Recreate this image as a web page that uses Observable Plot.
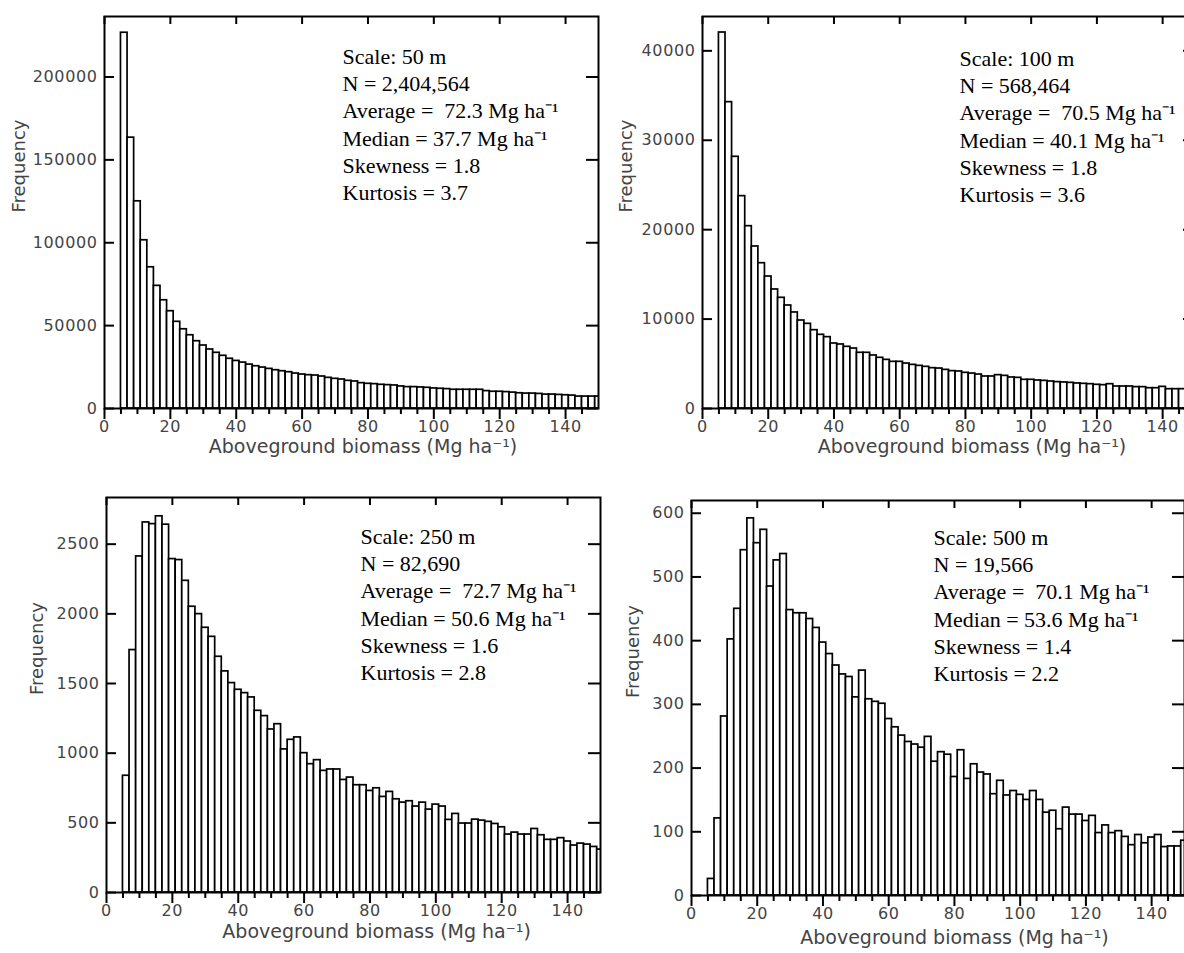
<!DOCTYPE html>
<html><head><meta charset="utf-8">
<script src="https://cdn.jsdelivr.net/npm/d3@7"></script>
<script src="https://cdn.jsdelivr.net/npm/@observablehq/plot@0.6"></script>
<style>
html,body{margin:0;padding:0;background:#fff;}
#chart{position:relative;width:1184px;height:953px;overflow:hidden;background:#fff;}
#chart svg{position:absolute;}
</style></head><body><div id="chart"></div>
<script>
// Histogram bins: 2 Mg/ha wide, first bin starts at 5
const binStart = 5, binWidth = 2;

const counts50 = [226700,163400,125000,101500,85200,74000,65300,58700,52300,47800,44200,40600,38000,35600,33600,31800,30000,28700,27700,26500,25500,24700,23900,23100,22500,21900,21100,20500,20100,19900,19300,18500,17900,17500,16700,16300,15300,14900,14700,14300,14100,13900,13300,12900,12900,12700,12500,12100,11900,11700,11300,11300,11300,11300,11300,10500,10100,10100,9900,9600,9200,9000,9000,8800,8400,8400,8200,8000,7800,7200,7200,7200,7200];
const counts100 = [42050,34260,28150,23750,20390,18120,16250,14760,13310,12380,11520,10740,9840,9470,8760,8240,7980,7270,7160,6900,6710,6230,6230,5930,5670,5440,5220,5220,5030,4880,4770,4660,4510,4470,4320,4180,4140,3990,3910,3800,3580,3580,3730,3650,3470,3430,3210,3210,3130,3090,3020,2950,2910,2870,2800,2760,2720,2650,2610,2720,2460,2460,2460,2390,2390,2270,2270,2420,2160,2160,2160,2100,2050];
const counts250 = [838,1740,2412,2656,2644,2700,2640,2393,2386,2237,2051,1998,1900,1835,1692,1587,1503,1455,1431,1400,1304,1266,1170,1208,1027,1096,1113,1000,921,950,873,883,883,808,825,770,770,729,748,686,722,669,645,655,617,645,595,631,617,521,564,495,495,523,516,507,492,468,416,430,416,416,456,411,378,378,390,366,337,351,344,327,308];
const counts500 = [26,121,281,402,450,542,592,553,574,485,526,536,448,443,443,434,420,397,379,361,347,343,311,353,308,304,301,277,264,251,241,237,232,249,210,225,221,186,228,183,206,193,190,159,180,157,164,158,150,164,150,130,133,104,138,127,127,117,125,98,110,98,101,92,79,95,82,91,95,76,77,77,86];

const scaleLabels = ["50 m", "100 m", "250 m", "500 m"];
const nValues = ["2,404,564", "568,464", "82,690", "19,566"];
const averages = ["72.3", "70.5", "72.7", "70.1"];
const medians = ["37.7", "40.1", "50.6", "53.6"];
const skewness = ["1.8", "1.8", "1.6", "1.4"];
const kurtosis = ["3.7", "3.6", "2.8", "2.2"];

const xTicks = [0, 20, 40, 60, 80, 100, 120, 140];
const xMinorTicks = [5, 10, 15, 25, 30, 35, 45, 50, 55, 65, 70, 75, 85, 90, 95, 105, 110, 115, 125, 130, 135, 145];
const yTicks50 = [0, 50000, 100000, 150000, 200000];
const yTicks100 = [0, 10000, 20000, 30000, 40000];
const yTicks250 = [0, 500, 1000, 1500, 2000, 2500];
const yTicks500 = [0, 100, 200, 300, 400, 500, 600];
const yMaxes = [236500, 43840, 2835, 620];

const xLabel = "Aboveground biomass (Mg ha\u207B\u00B9)";
const yLabel = "Frequency";

const panels = [
  {counts: counts50, yTicks: yTicks50, frame: {x0: 104, x1: 598, y0: 16, yb: 408}, freqDx: -85, statsDx: 238, statsDy: 28, labelX: 78.5, titleDy: 44},
  {counts: counts100, yTicks: yTicks100, frame: {x0: 702, x1: 1195, y0: 16, yb: 408}, freqDx: -76, statsDx: 257, statsDy: 30, labelX: 82, titleDy: 44},
  {counts: counts250, yTicks: yTicks250, frame: {x0: 106, x1: 600, y0: 497, yb: 892}, freqDx: -69, statsDx: 254, statsDy: 27, labelX: 82, titleDy: 45},
  {counts: counts500, yTicks: yTicks500, frame: {x0: 691, x1: 1184, y0: 500, yb: 895}, freqDx: -58, statsDx: 242, statsDy: 25, labelX: 80, titleDy: 48}
];

const mL = 110, mR = 14, mT = 12, mB = 64;
const chart = document.getElementById("chart");

panels.forEach((p, i) => {
  const rows = p.counts.map((v, k) => ({x1: binStart + k * binWidth, x2: binStart + (k + 1) * binWidth, v}));
  const plotW = p.frame.x1 - p.frame.x0, plotH = p.frame.yb - p.frame.y0;
  const stats = [
    `Scale: ${scaleLabels[i]}`,
    `N = ${nValues[i]}`,
    `Average =\u00A0 ${averages[i]} Mg ha\u207B\u00B9`,
    `Median = ${medians[i]} Mg ha\u207B\u00B9`,
    `Skewness = ${skewness[i]}`,
    `Kurtosis = ${kurtosis[i]}`
  ].join("\n");
  const svg = Plot.plot({
    width: plotW + mL + mR,
    height: plotH + mT + mB,
    marginLeft: mL, marginRight: mR, marginTop: mT, marginBottom: mB,
    x: {domain: [0, 150]},
    y: {domain: [0, yMaxes[i]]},
    style: {background: "transparent", overflow: "visible", fontFamily: "DejaVu Sans", color: "black"},
    marks: [
      Plot.rectY(rows, {x1: "x1", x2: "x2", y: "v", fill: "white", stroke: "black", strokeWidth: 1.7, clip: true}),
      Plot.frame({stroke: "black", strokeWidth: 2}),
      Plot.tickY(p.yTicks, {y: d => d, insetRight: plotW - 10, stroke: "black", strokeWidth: 2}),
      Plot.tickY(p.yTicks, {y: d => d, insetLeft: plotW - 12, stroke: "black", strokeWidth: 2}),
      Plot.tickX(xTicks, {x: d => d, insetBottom: plotH - 8, stroke: "black", strokeWidth: 2}),
      Plot.axisX(xMinorTicks, {anchor: "bottom", tickSize: 6, strokeWidth: 2, stroke: "black", fill: "none", label: null}),
      Plot.axisX(xTicks, {anchor: "bottom", tickSize: 11, tickPadding: 1, strokeWidth: 2, stroke: "black", fill: "#444", fontSize: 16, fontFamily: "DejaVu Sans", label: null}),
      Plot.axisY(p.yTicks, {anchor: "left", tickSize: 0, tickPadding: 7, fill: "#444", fontSize: 16, fontFamily: "DejaVu Sans", label: null, tickFormat: d => String(d)}),
      Plot.text([{t: xLabel, x: p.labelX}], {x: "x", text: "t", frameAnchor: "bottom", dy: p.titleDy, fontSize: 19, fontFamily: "DejaVu Sans", fill: "#444", ariaLabel: "xtitle"}),
      Plot.text([yLabel], {frameAnchor: "left", dx: p.freqDx, rotate: -90, fontSize: 18, fontFamily: "DejaVu Sans", fill: "#444", ariaLabel: "ytitle"}),
      Plot.text([stats], {frameAnchor: "top-left", dx: p.statsDx, dy: p.statsDy, lineAnchor: "top", textAnchor: "start", lineHeight: 1.24, fontSize: 22, fontFamily: "Liberation Serif, Times New Roman, serif", fill: "black", ariaLabel: "stats"})
    ]
  });
  svg.style.left = (p.frame.x0 - mL) + "px";
  svg.style.top = (p.frame.y0 - mT) + "px";
  const s = d3.select(svg);
  s.selectAll('g[aria-label="x-axis tick label"], g[aria-label="y-axis tick label"]').style("letter-spacing", "0.6px");
  s.selectAll('g[aria-label="xtitle"]').style("letter-spacing", "1.6px");
  s.selectAll('g[aria-label="ytitle"]').style("letter-spacing", "1.8px");
  chart.appendChild(svg);
});
</script></body></html>
